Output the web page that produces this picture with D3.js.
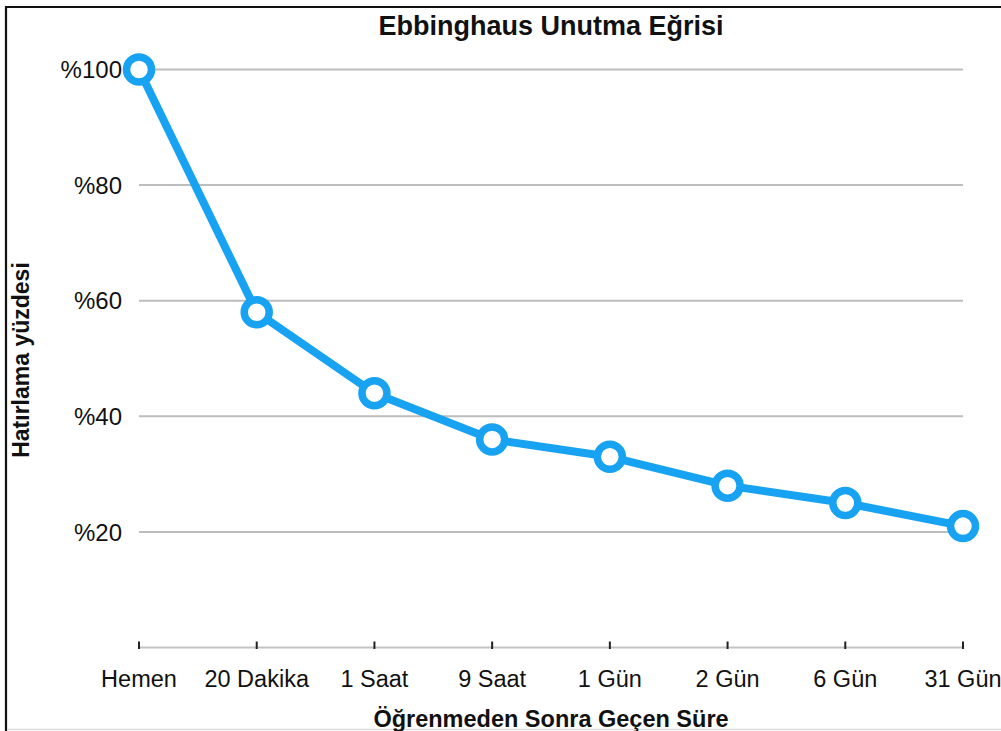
<!DOCTYPE html>
<html>
<head>
<meta charset="utf-8">
<script src="https://cdn.jsdelivr.net/npm/d3@7"></script>
<style>
  html, body { margin: 0; padding: 0; background: #fff; }
  svg { display: block; }
  text { font-family: "Liberation Sans", Arial, Helvetica, sans-serif; fill: #111; }
</style>
</head>
<body>
<svg id="chart" width="1001" height="731"></svg>
<script>
// Retention after learning (Ebbinghaus forgetting curve)
const categories = ["Hemen", "20 Dakika", "1 Saat", "9 Saat", "1 Gün", "2 Gün", "6 Gün", "31 Gün"];
const retention = [100, 58, 44, 36, 33, 28, 25, 21];
const yTicks = [20, 40, 60, 80, 100];
const chartTitle = "Ebbinghaus Unutma Eğrisi";
const xTitle = "Öğrenmeden Sonra Geçen Süre";
const yTitle = "Hatırlama yüzdesi";

const W = 1001, H = 731;
const svg = d3.select("#chart");

// Frame: dark top/left edges, faint bottom edge
svg.append("line").attr("x1", 6).attr("x2", 6).attr("y1", 6).attr("y2", H)
  .attr("stroke", "#111").attr("stroke-width", 2.2);
svg.append("line").attr("x1", 5).attr("x2", W).attr("y1", 7).attr("y2", 7)
  .attr("stroke", "#111").attr("stroke-width", 2.2);
svg.append("line").attr("x1", 7).attr("x2", W).attr("y1", 729.5).attr("y2", 729.5)
  .attr("stroke", "#ddd").attr("stroke-width", 1.5);

const x = d3.scalePoint().domain(categories).range([139, 963]);
const y = d3.scaleLinear().domain([0, 100]).range([647.5, 69.5]);

// Horizontal gridlines
svg.append("g").selectAll("line").data(yTicks).join("line")
  .attr("x1", 139).attr("x2", 963)
  .attr("y1", d => y(d)).attr("y2", d => y(d))
  .attr("stroke", "#bdbdbd").attr("stroke-width", 2);

// Y tick labels
svg.append("g").selectAll("text").data(yTicks).join("text")
  .attr("x", 122).attr("y", d => y(d))
  .attr("dy", "0.36em").attr("text-anchor", "end")
  .attr("font-size", 24)
  .text(d => "%" + d);

// X axis: baseline, tick marks and category labels
const xAxis = d3.axisBottom(x).tickSize(0).tickPadding(0);
const gx = svg.append("g").attr("transform", `translate(0,${y(0)})`).call(xAxis);
gx.select(".domain").remove();
gx.selectAll(".tick text").remove();
svg.append("line").attr("x1", 139).attr("x2", 963).attr("y1", y(0)).attr("y2", y(0))
  .attr("stroke", "#c4c4c4").attr("stroke-width", 2);
svg.append("g").selectAll("line").data(categories).join("line")
  .attr("x1", d => x(d)).attr("x2", d => x(d))
  .attr("y1", y(0) - 6).attr("y2", y(0) + 1.5)
  .attr("stroke", "#222").attr("stroke-width", 2);
svg.append("g").selectAll("text").data(categories).join("text")
  .attr("x", d => x(d)).attr("y", 687)
  .attr("text-anchor", "middle")
  .attr("font-size", 23.5)
  .text(d => d);

// Titles
svg.append("text").attr("x", 551).attr("y", 35)
  .attr("text-anchor", "middle").attr("font-size", 27).attr("font-weight", "bold")
  .text(chartTitle);
svg.append("text").attr("x", 551).attr("y", 727)
  .attr("text-anchor", "middle").attr("font-size", 23.5).attr("font-weight", "bold")
  .text(xTitle);
svg.append("text").attr("transform", "translate(29,360) rotate(-90)")
  .attr("text-anchor", "middle").attr("font-size", 23).attr("font-weight", "bold")
  .text(yTitle);

// Curve
const color = "#17a2f2";
const line = d3.line().x((d, i) => x(categories[i])).y(d => y(d));
svg.append("path").datum(retention)
  .attr("d", line)
  .attr("fill", "none").attr("stroke", color)
  .attr("stroke-width", 8).attr("stroke-linejoin", "round");

svg.append("g").selectAll("circle").data(retention).join("circle")
  .attr("cx", (d, i) => x(categories[i])).attr("cy", d => y(d))
  .attr("r", 12.5)
  .attr("fill", "#fff").attr("stroke", color).attr("stroke-width", 7.5);
</script>
</body>
</html>
